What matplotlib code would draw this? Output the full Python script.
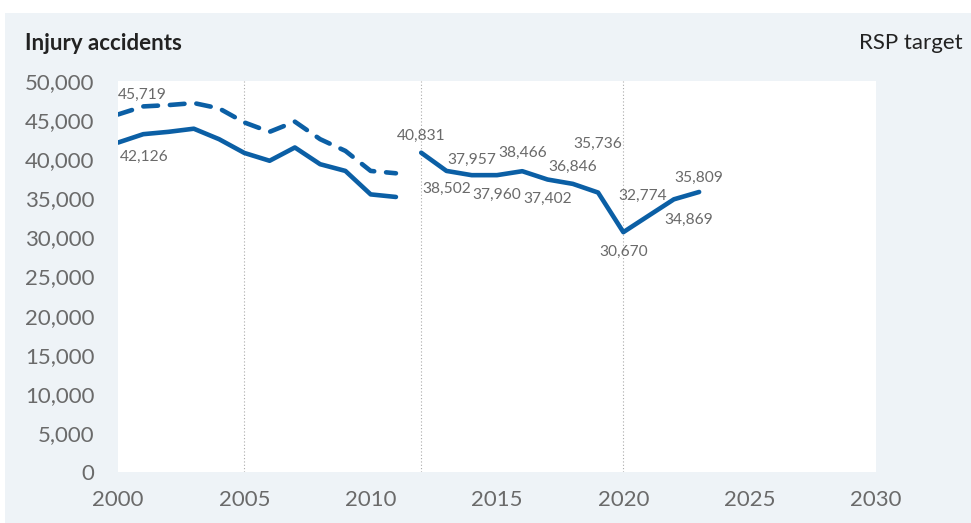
#Injury accidents chart, with the RSP target axis extending to 2030
import matplotlib.pyplot as plt
from matplotlib.patches import Rectangle

plt.rcParams['font.family'] = ['Lato', 'DejaVu Sans']

# first series, 2000-2011 (old and new counting)
years_a = list(range(2000, 2012))
accidents_old = [45719, 46750, 46920, 47180, 46500, 44700, 43500, 44800, 42560, 41060, 38500, 38200]
accidents_a = [42126, 43200, 43500, 43900, 42560, 40800, 39800, 41500, 39360, 38500, 35500, 35170]

# second series, 2012-2023
years_b = list(range(2012, 2024))
accidents_b = [40831, 38502, 37957, 37960, 38466, 37402, 36846, 35736, 30670, 32774, 34869, 35809]

y_ticks = [0, 5000, 10000, 15000, 20000, 25000, 30000, 35000, 40000, 45000, 50000]
x_ticks = [2000, 2005, 2010, 2015, 2020, 2025, 2030]
ref_lines = [2005, 2012, 2020]

# label offsets (points) for the 2012-2023 values
label_offsets = [(0, 12), (0, -13), (0, 11), (0, -14), (0, 13), (0, -14),
                 (0, 12), (0, 35), (0, -14), (-4, 14), (11, -15), (0, 10)]

BLUE = '#0b5fa5'
GREY = '#6a6a6a'
PANEL = '#eef3f7'

fig = plt.figure(figsize=(9.71, 5.23), dpi=100)
fig.patch.set_facecolor('white')
fig.patches.append(Rectangle((5 / 971, 0), 1, 1 - 13 / 523, transform=fig.transFigure,
                             facecolor=PANEL, edgecolor='none', zorder=-10))

ax = fig.add_axes([118 / 971, 51 / 523, 758 / 971, 391 / 523])
ax.set_facecolor('white')

for x in ref_lines:
    ax.axvline(x, color='#aaaaaa', lw=0.8, ls=(0, (1, 2)), zorder=1)

ax.plot(years_a, accidents_old, color=BLUE, lw=3.3, ls=(0, (3.2, 2.6)),
        dash_capstyle='round', solid_capstyle='round', zorder=3)
ax.plot(years_a, accidents_a, color=BLUE, lw=3.3, solid_capstyle='round',
        solid_joinstyle='round', zorder=3)
ax.plot(years_b, accidents_b, color=BLUE, lw=3.3, solid_capstyle='round',
        solid_joinstyle='round', zorder=3)

lab_kw = dict(textcoords='offset points', fontsize=11.2, color=GREY, va='center')
ax.annotate(f'{accidents_old[0]:,}', (years_a[0], accidents_old[0]), xytext=(0, 14),
            ha='left', **lab_kw)
ax.annotate(f'{accidents_a[0]:,}', (years_a[0], accidents_a[0]), xytext=(1, -10),
            ha='left', **lab_kw)
for yr, val, off in zip(years_b, accidents_b, label_offsets):
    ax.annotate(f'{val:,}', (yr, val), xytext=off, ha='center', **lab_kw)

ax.set_xlim(2000, 2030)
ax.set_ylim(0, 50000)
ax.set_xticks(x_ticks)
ax.set_yticks(y_ticks)
ax.set_yticklabels([f'{v:,}' for v in y_ticks])
ax.tick_params(axis='y', length=0, pad=17, labelsize=16, labelcolor=GREY)
ax.tick_params(axis='x', length=0, pad=13, labelsize=16, labelcolor=GREY)
for s in ax.spines.values():
    s.set_visible(False)

fig.text(25 / 971, 1 - 43 / 523, 'Injury accidents', fontsize=16, fontweight='bold',
         color='#222222', va='center', ha='left')
fig.text(963 / 971, 1 - 43 / 523, 'RSP target', fontsize=16, color='#222222',
         va='center', ha='right')

fig.savefig('out.png', dpi=100, facecolor=fig.get_facecolor())
